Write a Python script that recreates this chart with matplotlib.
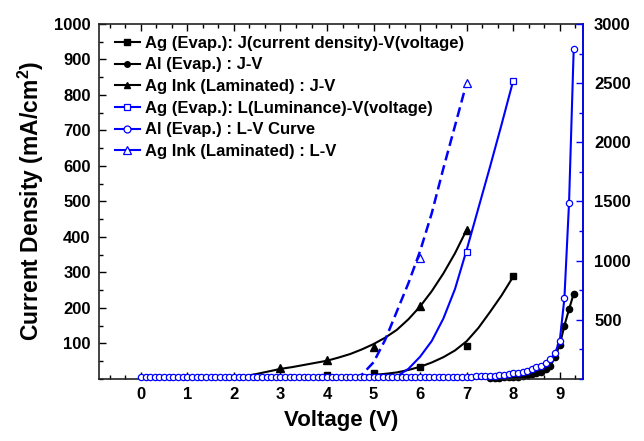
import numpy as np
import matplotlib
matplotlib.use("Agg")
import matplotlib.pyplot as plt
from matplotlib.lines import Line2D
from matplotlib.ticker import MultipleLocator, FixedLocator

plt.rcParams['font.family'] = ['Liberation Sans', 'DejaVu Sans']
plt.rcParams['font.weight'] = 'bold'
plt.rcParams['mathtext.fontset'] = 'custom'
plt.rcParams['mathtext.rm'] = 'Liberation Sans:bold'
plt.rcParams['mathtext.bf'] = 'Liberation Sans:bold'

# measured points, J (left axis, mA/cm2)
agev_v = [4, 5, 6, 7, 8]
agev_j = [12, 15, 33, 93, 290]
ink_v = [3, 4, 5, 6, 7]
ink_j = [31, 53, 89, 204, 420]
al_jv = [7.5, 7.6, 7.7, 7.8, 7.9, 8.0, 8.1, 8.2, 8.3, 8.4, 8.5, 8.6, 8.7, 8.8,
         8.9, 9.0, 9.1, 9.2, 9.3]
al_j = [2, 3, 3, 4, 4, 5, 6, 8, 10, 13, 15, 20, 27, 36, 62, 95, 150, 196, 240]

# fitted curves
agev_fit_v = [3.75, 4.0, 4.25, 4.5, 4.75, 5.0, 5.25, 5.5, 5.75, 6.0, 6.25, 6.5,
              6.75, 7.0, 7.25, 7.5, 7.75, 8.0]
agev_fit_j = [4, 5, 6, 7, 9, 11, 14, 18, 25, 34, 46, 61, 80, 106, 143, 188, 235, 288]
ink_fit_v = [2.0, 2.25, 2.5, 2.75, 3.0, 3.25, 3.5, 3.75, 4.0, 4.25, 4.5, 4.75,
             5.0, 5.25, 5.5, 5.75, 6.0, 6.25, 6.5, 6.75, 7.0]
ink_fit_j = [3, 8, 14, 21, 28, 33, 39, 45, 51, 60, 70, 83, 98, 116, 138, 168,
             204, 247, 297, 354, 420]

# luminance (right axis)
agev_lv = [7, 8]
agev_l = [1075, 2521]
ink_lv = [6, 7]
ink_l = [1019, 2504]
al_lv = np.round(np.arange(0, 9.35, 0.1), 1)
al_l = [12, 12, 12, 12, 12, 12, 12, 12, 12, 12,
        12, 12, 12, 12, 12, 12, 12, 12, 12, 12,
        12, 12, 12, 12, 12, 12, 12, 12, 12, 12,
        12, 12, 12, 12, 12, 12, 12, 12, 12, 12,
        12, 12, 12, 12, 12, 12, 12, 12, 12, 12,
        12, 12, 12, 12, 12, 12, 12, 12, 12, 12,
        13, 13, 14, 14, 15, 15, 16, 16, 17, 17,
        18, 19, 20, 21, 22, 24, 26, 29, 33, 38,
        45, 52, 60, 70, 82, 96, 112, 135, 165, 220,
        320, 680, 1490, 2790]
agev_lfit_v = [5.4, 5.5, 5.75, 6.0, 6.25, 6.5, 6.75, 7.0, 7.25, 7.5, 7.75, 8.0]
agev_lfit = [0, 20, 85, 187, 320, 510, 760, 1090, 1440, 1790, 2150, 2521]
ink_lfit_v = [4.6, 4.75, 5.0, 5.25, 5.5, 5.75, 6.0, 6.25, 6.5, 6.75, 7.0]
ink_lfit = [0, 35, 140, 330, 570, 810, 1080, 1400, 1780, 2140, 2504]

labels = ["Ag (Evap.): J(current density)-V(voltage)", "Al (Evap.) : J-V",
          "Ag Ink (Laminated) : J-V", "Ag (Evap.): L(Luminance)-V(voltage)",
          "Al (Evap.) : L-V Curve", "Ag Ink (Laminated) : L-V"]

blue = '#0000ff'
fig = plt.figure(figsize=(6.44, 4.41), dpi=100)
ax = fig.add_axes([0.1537, 0.141, 0.7516, 0.8046])
ax2 = ax.twinx()

# J-V curves
ax.plot(agev_fit_v, agev_fit_j, color='k', lw=1.5)
ax.plot(agev_v, agev_j, 's', color='k', ms=5, clip_on=False)
ax.plot(ink_fit_v, ink_fit_j, color='k', lw=1.5)
ax.plot(ink_v, ink_j, '^', color='k', ms=6, clip_on=False)
ax.plot(al_jv, al_j, '-o', color='k', lw=1.5, ms=4.5, clip_on=False)

# L-V curves
ax2.plot(agev_lfit_v, agev_lfit, color=blue, lw=1.5)
ax2.plot(agev_lv, agev_l, 's', mfc='white', mec=blue, ms=5, mew=0.9)
ax2.plot(ink_lfit_v, ink_lfit, color=blue, lw=1.8, ls=(0, (4, 2)))
ax2.plot(ink_lv, ink_l, '^', mfc='white', mec=blue, ms=6, mew=0.9)
ax2.plot(al_lv, al_l, '-o', color=blue, mfc='white', mec=blue, lw=1.5, ms=4.5,
         mew=0.9, clip_on=False)

ax.set_xlim(-0.9, 9.5)
ax.set_ylim(0, 1000)
ax2.set_ylim(0, 3000)

ax.xaxis.set_major_locator(FixedLocator(range(0, 10)))
ax.xaxis.set_minor_locator(MultipleLocator(1 / 3))
ax.yaxis.set_major_locator(FixedLocator(range(100, 1001, 100)))
ax.yaxis.set_minor_locator(MultipleLocator(50))
ax2.yaxis.set_major_locator(FixedLocator(range(500, 3001, 500)))
ax2.yaxis.set_minor_locator(MultipleLocator(250))

ax.tick_params(which='both', direction='in', top=True, right=False,
               labelsize=12, width=1)
ax.tick_params(which='major', length=5, pad=6)
ax.tick_params(which='minor', length=3)
ax2.tick_params(which='both', direction='in', colors=blue, labelcolor='k',
                labelsize=12, width=1)
ax2.tick_params(which='major', length=5, pad=8)
ax2.tick_params(which='minor', length=3)

for s in ax.spines.values():
    s.set_linewidth(1.2)
    s.set_color('#222222')
for s in ['left', 'top', 'bottom']:
    ax2.spines[s].set_visible(False)
ax2.spines['right'].set_color(blue)
ax2.spines['right'].set_linewidth(1.2)

ax.set_xlabel('Voltage (V)', fontsize=16, fontweight='bold', labelpad=6)
ax.set_ylabel('Current Density (mA/cm$^{2}$)', fontsize=16.5, fontweight='bold',
              labelpad=6)

handles = [
    Line2D([], [], color='k', marker='s', ms=4, lw=1.5),
    Line2D([], [], color='k', marker='o', ms=4, lw=1.5),
    Line2D([], [], color='k', marker='^', ms=5, lw=1.5),
    Line2D([], [], color=blue, marker='s', ms=5, mfc='white', mew=0.9, lw=1.5),
    Line2D([], [], color=blue, marker='o', ms=5, mfc='white', mew=0.9, lw=1.5),
    Line2D([], [], color=blue, marker='^', ms=6, mfc='white', mew=0.9, lw=1.5),
]
ax2.legend(handles, labels, loc='upper left', bbox_to_anchor=(0.033, 0.967),
           frameon=False, borderaxespad=0, borderpad=0,
           handlelength=1.5, handletextpad=0.3, labelspacing=0.4,
           prop={'weight': 'bold', 'size': 12})

fig.savefig('out.png', dpi=100, facecolor='white')
